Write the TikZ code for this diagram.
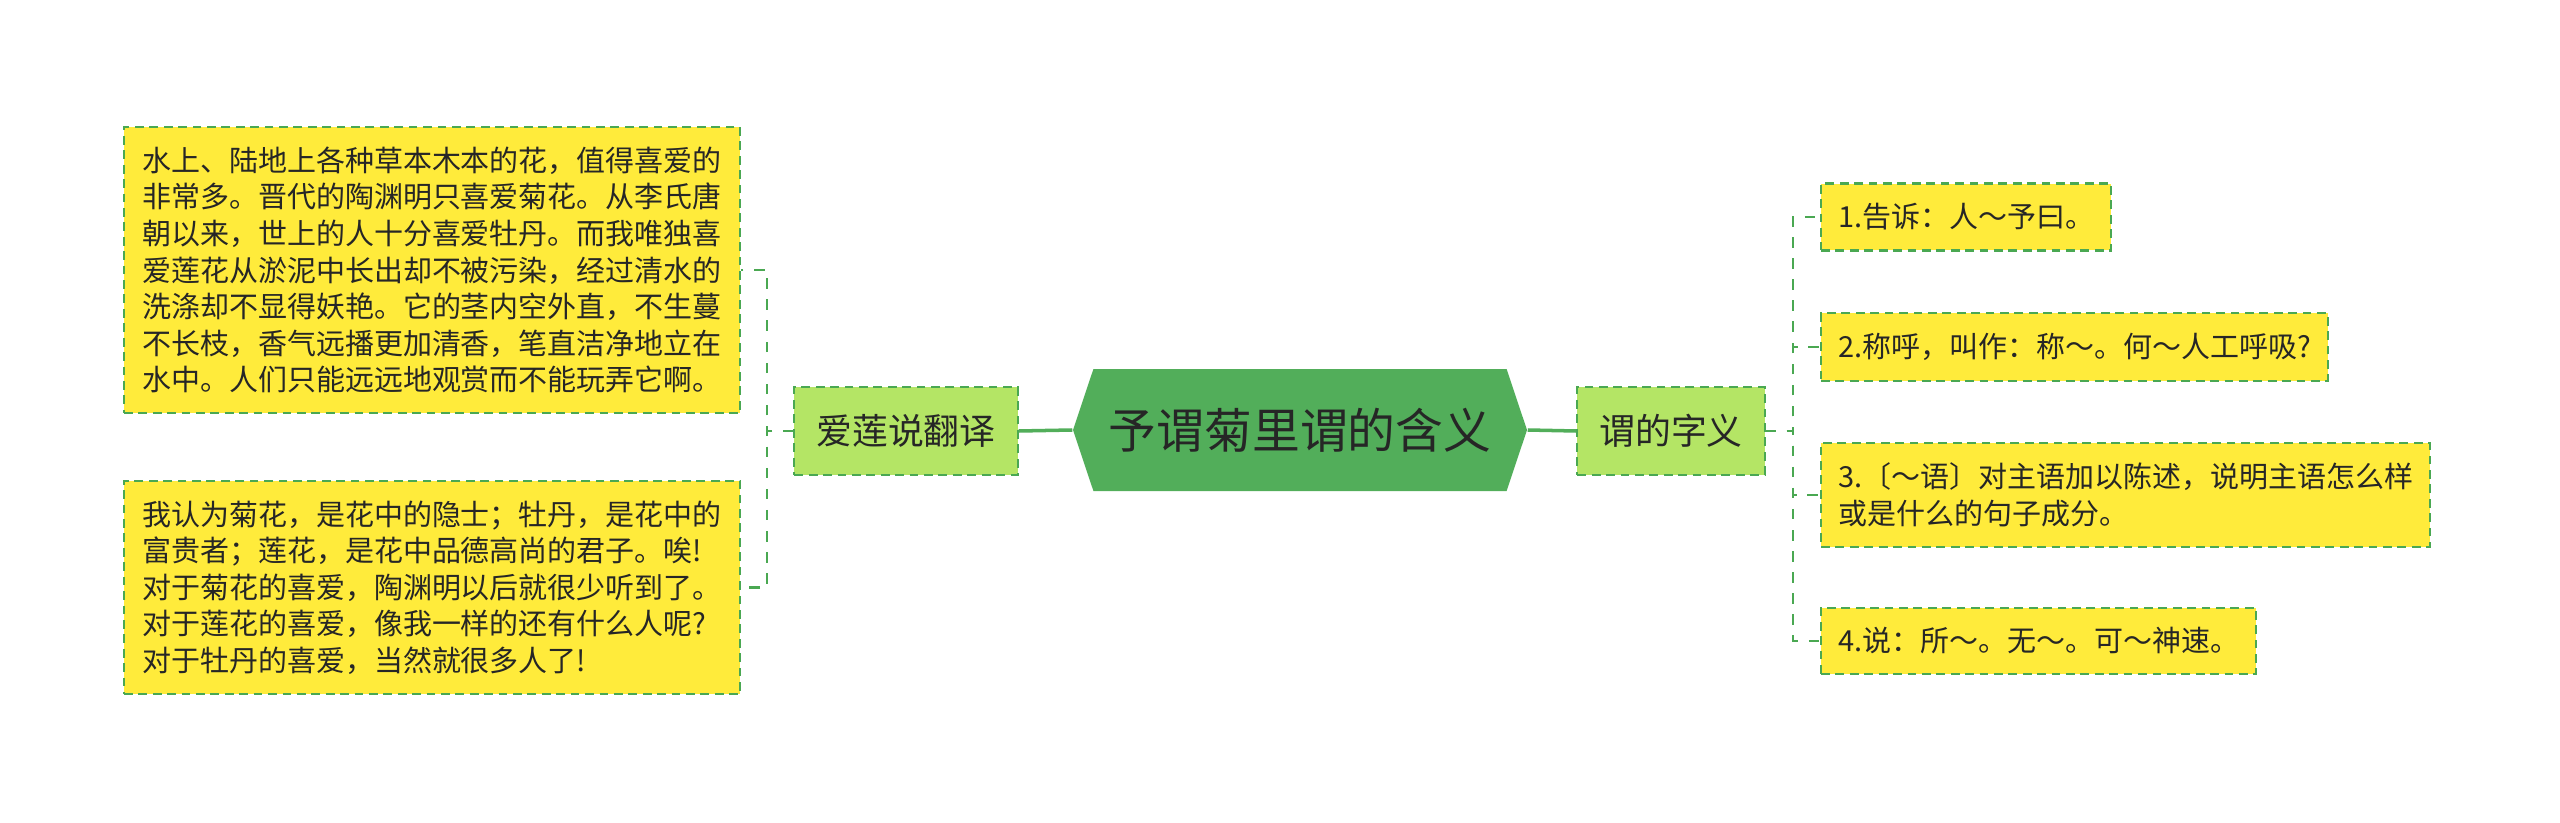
\documentclass[tikz,border=0pt]{standalone}
\usepackage{fontspec}
\setmainfont{Noto Sans CJK SC}
\usetikzlibrary{shapes.symbols}

\definecolor{rootgreen}{HTML}{52AE5A}
\definecolor{topicgreen}{HTML}{B4E565}
\definecolor{leafyellow}{HTML}{FFEB3B}
\definecolor{edgegreen}{HTML}{4AA852}
\definecolor{inkgray}{HTML}{262626}

\begin{document}
\begin{tikzpicture}[
    every node/.style={text=inkgray},
    root/.style={signal, signal to=west and east, signal pointer angle=143,
      fill=rootgreen, minimum width=4.54cm, minimum height=1.22cm, inner sep=0pt,
      font=\fontsize{13.6}{16}\selectfont},
    topic/.style={fill=topicgreen, draw=edgegreen, line width=0.6pt,
      dash pattern=on 2.5pt off 1.6pt, minimum height=0.88cm, inner xsep=0.22cm,
      font=\fontsize{10.2}{12}\selectfont},
    leaf/.style={fill=leafyellow, draw=edgegreen, line width=0.6pt,
      dash pattern=on 2.5pt off 1.6pt, align=left, inner xsep=0.17cm, inner ysep=0.2cm,
      font=\fontsize{8.25}{10.4}\selectfont},
    trunk/.style={draw=rootgreen, line width=1pt},
    branch/.style={draw=edgegreen, line width=0.6pt, dash pattern=on 3pt off 3pt}
  ]
    \useasboundingbox (0, 0) rectangle (25.60, -8.23);

    \node[root] (root) at (13.00, -4.30) {予谓菊里谓的含义};
    \node[topic] (fanyi) at (9.06, -4.31) {爱莲说翻译};
    \node[topic] (ziyi) at (16.71, -4.31) {谓的字义};

    \node[leaf, minimum width=6.16cm] (yiwen) at (4.32, -2.70) {水上、陆地上各种草本木本的花，值得喜爱的\\非常多。晋代的陶渊明只喜爱菊花。从李氏唐\\朝以来，世上的人十分喜爱牡丹。而我唯独喜\\爱莲花从淤泥中长出却不被污染，经过清水的\\洗涤却不显得妖艳。它的茎内空外直，不生蔓\\不长枝，香气远播更加清香，笔直洁净地立在\\水中。人们只能远远地观赏而不能玩弄它啊。};
    \node[leaf, minimum width=6.16cm] (yier) at (4.32, -5.875) {我认为菊花，是花中的隐士；牡丹，是花中的\\富贵者；莲花，是花中品德高尚的君子。唉!\\对于菊花的喜爱，陶渊明以后就很少听到了。\\对于莲花的喜爱，像我一样的还有什么人呢?\\对于牡丹的喜爱，当然就很多人了!};

    \node[leaf, anchor=west] (yi1) at (18.20, -2.17) {1.告诉：人～予曰。};
    \node[leaf, anchor=west] (yi2) at (18.20, -3.47) {2.称呼，叫作：称～。何～人工呼吸?};
    \node[leaf, anchor=west] (yi3) at (18.20, -4.95) {3.〔～语〕对主语加以陈述，说明主语怎么样\\或是什么的句子成分。};
    \node[leaf, anchor=west] (yi4) at (18.20, -6.41) {4.说：所～。无～。可～神速。};

    \draw[trunk] (root.west) -- (fanyi.east);
    \draw[trunk] (root.east) -- (ziyi.west);

    \foreach \n in {yiwen, yier}
      \draw[branch] (fanyi.west) -- ++(-0.265, 0) |- (\n.east);
    \foreach \n in {yi1, yi2, yi3, yi4}
      \draw[branch] (ziyi.east) -- ++(0.275, 0) |- (\n.west);
  \end{tikzpicture}
\end{document}
